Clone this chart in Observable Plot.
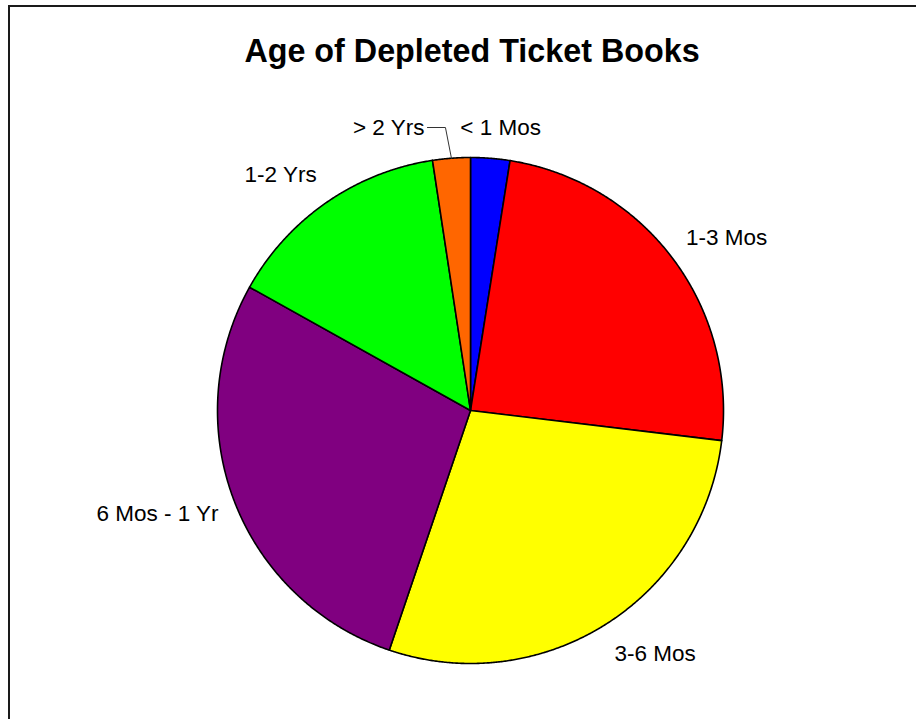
<!DOCTYPE html>
<html>
<head>
<meta charset="utf-8">
<script src="https://cdn.jsdelivr.net/npm/d3@7"></script>
<script src="https://cdn.jsdelivr.net/npm/@observablehq/plot@0.6"></script>
<style>
  html, body { margin: 0; padding: 0; background: #fff; }
  #chart { position: relative; width: 916px; height: 719px; overflow: hidden; background: #fff; }
  #frame { position: absolute; left: 8px; top: 5px; right: -10px; bottom: -10px;
           border-left: 2px solid #1a1a1a; border-top: 2px solid #1a1a1a; }
  #title { position: absolute; left: 14px; width: 916px; top: 35px; text-align: center;
           font: bold 32.3px "Liberation Sans", Arial, sans-serif; line-height: 32px; color: #000; }
  #chart svg { position: absolute; left: 0; top: 0; }
</style>
</head>
<body>
<div id="chart">
  <div id="frame"></div>
  <div id="title">Age of Depleted Ticket Books</div>
</div>
<script>
// Age buckets of depleted ticket books, share of total (%)
const categories = ["< 1 Mos", "1-3 Mos", "3-6 Mos", "6 Mos - 1 Yr", "1-2 Yrs", "> 2 Yrs"];
const shares = [2.5, 24.4, 28.3, 27.9, 14.5, 2.4];
const sliceColors = ["#0000ff", "#ff0000", "#ffff00", "#800080", "#00ff00", "#ff6600"];

// Layout (pixels)
const W = 916, H = 719;
const CX = 470, CY = 410, R = 253;
const LABEL_R = 270;      // radius where outside labels attach
const SMALL_SHARE = 5;    // slices below this get labels lifted above the pie
const LIFT = 30;          // distance of lifted labels above the rim
const SHIFT = 30;         // horizontal shift of lifted labels

const data = categories.map((label, i) => ({label, value: shares[i]}));
const arcs = d3.pie().sort(null).value(d => d.value)(data);

// Slice outlines as closed polygons: centre + points along the rim
const slicePts = [];
for (const a of arcs) {
  slicePts.push({label: a.data.label, x: 0, y: 0});
  const n = Math.max(2, Math.ceil((a.endAngle - a.startAngle) / 0.005));
  for (let k = 0; k <= n; k++) {
    const t = a.startAngle + (a.endAngle - a.startAngle) * k / n;
    slicePts.push({label: a.data.label, x: R * Math.sin(t), y: -R * Math.cos(t)});
  }
}

// Labels
const labelsRight = [], labelsLeft = [], leader = [];
for (const a of arcs) {
  const mid = (a.startAngle + a.endAngle) / 2;
  const s = Math.sin(mid), c = Math.cos(mid);
  if (a.data.value < SMALL_SHARE) {
    const rimX = R * s, rimY = -R * c;
    const y = -(R + LIFT);
    if (s >= 0) {
      labelsRight.push({label: a.data.label, x: rimX - SHIFT, y});
    } else {
      const end = rimX - SHIFT + 3;
      labelsLeft.push({label: a.data.label, x: end, y});
      leader.push({x: end + 3, y}, {x: rimX - 6, y}, {x: rimX, y: rimY});
    }
  } else {
    const x = LABEL_R * s;
    const y = -LABEL_R * c - 17 * c;
    (s >= 0 ? labelsRight : labelsLeft).push({label: a.data.label, x, y});
  }
}

const font = {fontFamily: "'Liberation Sans', Arial, sans-serif", fontSize: 22.5, fill: "#000"};

const svg = Plot.plot({
  width: W,
  height: H,
  margin: 0,
  x: {domain: [-CX, W - CX], range: [0, W], axis: null},
  y: {domain: [-CY, H - CY], range: [0, H], axis: null},
  color: {domain: categories, range: sliceColors},
  style: {background: "transparent", overflow: "visible"},
  marks: [
    Plot.line(slicePts, {
      x: "x", y: "y", z: "label", fill: "label",
      stroke: "#000", strokeWidth: 1.6, strokeLinejoin: "round",
      curve: "linear-closed"
    }),
    Plot.line(leader, {x: "x", y: "y", stroke: "#333", strokeWidth: 1}),
    Plot.text(labelsRight, {x: "x", y: "y", text: "label", textAnchor: "start", ...font}),
    Plot.text(labelsLeft, {x: "x", y: "y", text: "label", textAnchor: "end", ...font})
  ]
});
document.getElementById("chart").appendChild(svg);
</script>
</body>
</html>
